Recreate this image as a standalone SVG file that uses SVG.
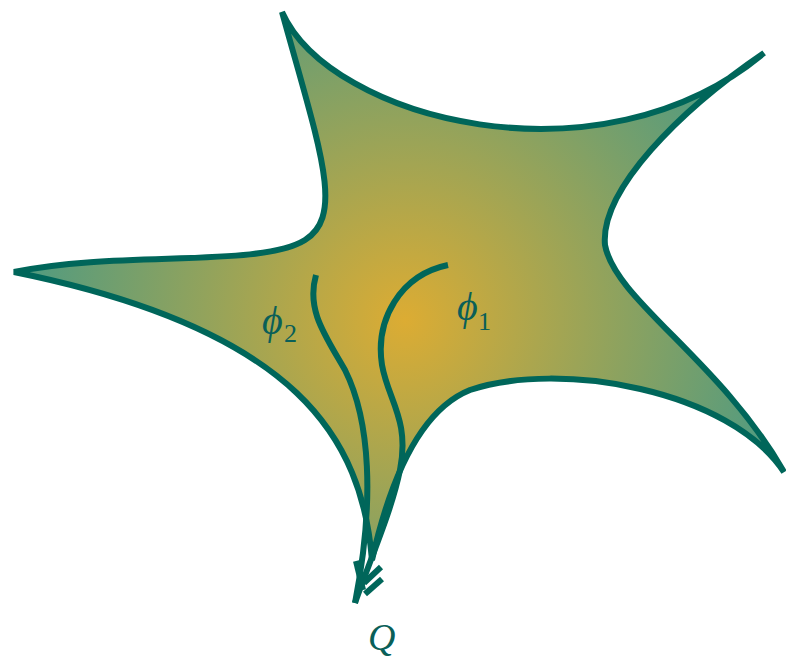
<svg xmlns="http://www.w3.org/2000/svg" width="786" height="658" viewBox="0 0 786 658">
<defs>
<radialGradient id="g" gradientUnits="userSpaceOnUse" cx="405" cy="320" r="400">
<stop offset="0" stop-color="#dcac33"/>
<stop offset="1" stop-color="#4a9a84"/>
</radialGradient>
<style>
.ln{fill:none;stroke:#00665a;stroke-width:6;stroke-linecap:butt}
.lb{font-family:"Liberation Serif","DejaVu Serif",serif;font-style:italic;fill:#0a5f58}
.sub{font-family:"Liberation Serif","DejaVu Serif",serif;fill:#0a5f58}
</style>
</defs>
<g id="region">
<path d="M282,12 C330,120 600,190 764,53 C680,110 600,190 605,245 C615,300 720,360 784,472 C730,390 560,360 470,390 C420,410 390,480 372,560 C362,440 300,330 14,272 C120,250 260,268 305,240 C345,215 320,150 282,12 Z" fill="url(#g)" stroke="#00665a" stroke-width="6" stroke-linejoin="miter"/>
</g>
<g id="connectors">
<path class="ln" d="M448,265 C400,275 375,320 382,365 C388,400 410,420 400,470 C392,510 370,560 355,603"/>
<path class="ln" d="M316,275 C306,310 325,335 345,370 C370,420 375,500 355,603"/>
<path class="ln" d="M356,561 L363,590"/>
<path class="ln" d="M381,567 L364,583"/>
<path class="ln" d="M382,579 L365,594"/>
</g>
<g id="labels">
<text class="lb" x="457" y="320" font-size="40">ϕ</text>
<text class="sub" x="478" y="330" font-size="26">1</text>
<text class="lb" x="262" y="334" font-size="40">ϕ</text>
<text class="sub" x="284" y="342" font-size="26">2</text>
<text class="lb" x="368" y="650" font-size="38">Q</text>
</g>
</svg>
